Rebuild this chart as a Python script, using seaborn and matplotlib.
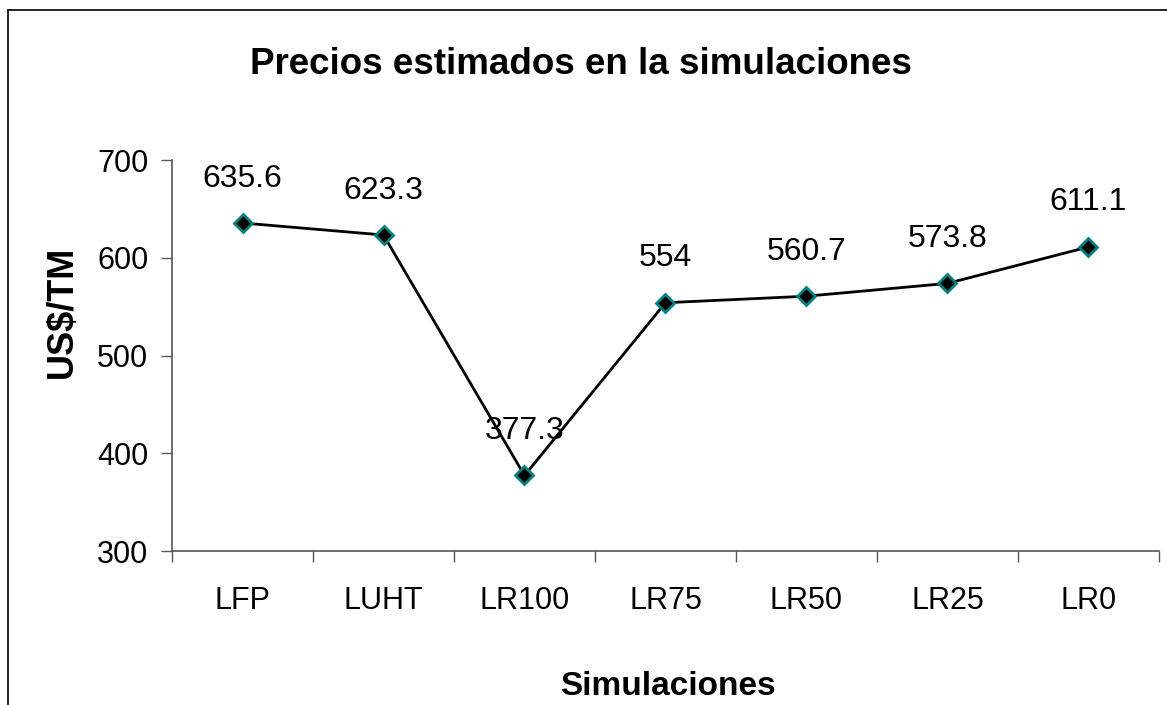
import numpy as np
import pandas as pd
import matplotlib
matplotlib.use("Agg")
import matplotlib.pyplot as plt
from matplotlib.lines import Line2D
from matplotlib.ticker import FixedLocator, NullFormatter
import seaborn as sns

# data
simulaciones = ["LFP", "LUHT", "LR100", "LR75", "LR50", "LR25", "LR0"]
precios = [635.6, 623.3, 377.3, 554, 560.7, 573.8, 611.1]
etiquetas = ["635.6", "623.3", "377.3", "554", "560.7", "573.8", "611.1"]
y_ticks = [300, 400, 500, 600, 700]

sns.set_theme(style="white")
plt.rcParams["font.family"] = ["Liberation Sans", "DejaVu Sans"]
plt.rcParams.update({"text.color": "black", "axes.labelcolor": "black",
                     "xtick.color": "black", "ytick.color": "black"})

df = pd.DataFrame({"Simulaciones": simulaciones, "Precio": precios})

fig = plt.figure(figsize=(11.67, 7.05), dpi=100)
ax = fig.add_axes([0.1474, 0.2184, 0.9931 - 0.1474, 0.773 - 0.2184])

sns.lineplot(data=df, x="Simulaciones", y="Precio", ax=ax, sort=False,
             color="black", linewidth=2, marker="D", markersize=9,
             markerfacecolor="black", markeredgecolor="#008080",
             markeredgewidth=2)

for i, (v, t) in enumerate(zip(precios, etiquetas)):
    ax.annotate(t, (i, v), xytext=(0, 32), textcoords="offset points",
                ha="center", va="center", fontsize=23, color="black")

ax.set_xlim(-0.5, len(simulaciones) - 0.5)
ax.set_ylim(300, 700)
ax.set_yticks(y_ticks)
ax.tick_params(axis="y", labelsize=22, length=8, width=1, color="#555555",
               direction="out", left=True, pad=9, labelcolor="black")
ax.tick_params(axis="x", which="major", labelsize=22, length=0, pad=25,
               labelcolor="black")
ax.xaxis.set_minor_locator(FixedLocator(np.arange(-0.5, len(simulaciones), 1.0)))
ax.xaxis.set_minor_formatter(NullFormatter())
ax.tick_params(axis="x", which="minor", length=8, width=1, color="#555555",
               direction="out", bottom=True)

for side in ["top", "right"]:
    ax.spines[side].set_visible(False)
for side in ["left", "bottom"]:
    ax.spines[side].set_color("#555555")
    ax.spines[side].set_linewidth(1.2)

ax.set_xlabel("Simulaciones", fontsize=24, fontweight="bold", va="top")
ax.xaxis.set_label_coords(0.5025, -0.307)
ax.set_ylabel("US$/TM", fontsize=26, fontweight="bold")
ax.yaxis.set_label_coords(-0.093, 0.611)
fig.text(0.498, 0.908, "Precios estimados en la simulaciones", ha="center",
         va="center", fontsize=26.5, fontweight="bold")

# chart area frame (top and left edges)
x0, y0 = 8 / 1167, 1 - 10 / 705
fig.add_artist(Line2D([x0, 1.0], [y0, y0], transform=fig.transFigure,
                      color="black", linewidth=1.2))
fig.add_artist(Line2D([x0, x0], [0.0, y0], transform=fig.transFigure,
                      color="black", linewidth=1.2))

fig.savefig("out.png", dpi=100, facecolor="white")
